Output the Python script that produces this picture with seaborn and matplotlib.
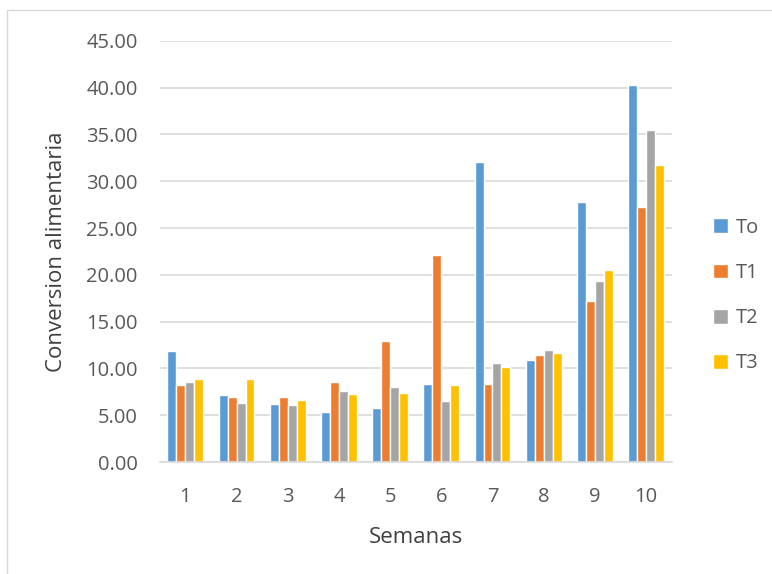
import pandas as pd
import matplotlib
matplotlib.use('Agg')
import matplotlib.pyplot as plt
import seaborn as sns
from matplotlib.lines import Line2D

# Data
semanas = ['1', '2', '3', '4', '5', '6', '7', '8', '9', '10']
tratamientos = ['To', 'T1', 'T2', 'T3']
to_vals = [11.9, 7.2, 6.2, 5.4, 5.8, 8.3, 32.1, 10.9, 27.8, 40.3]
t1_vals = [8.2, 7.0, 7.0, 8.5, 12.9, 22.1, 8.3, 11.4, 17.2, 27.2]
t2_vals = [8.5, 6.3, 6.1, 7.6, 8.0, 6.5, 10.6, 12.0, 19.3, 35.5]
t3_vals = [8.9, 8.9, 6.6, 7.3, 7.4, 8.2, 10.2, 11.6, 20.5, 31.7]
colores = ['#5B9BD5', '#ED7D31', '#A5A5A5', '#FFC000']

rows = []
for trat, vals in zip(tratamientos, [to_vals, t1_vals, t2_vals, t3_vals]):
    for sem, v in zip(semanas, vals):
        rows.append({'Semanas': sem, 'Tratamiento': trat, 'Valor': v})
df = pd.DataFrame(rows)

sns.set_style('white')
plt.rcParams['font.family'] = ['Open Sans', 'DejaVu Sans']

fig = plt.figure(figsize=(7.72, 5.74), dpi=100)
ax = fig.add_axes([0.207, 0.195, 0.663, 0.734])

sns.barplot(data=df, x='Semanas', y='Valor', hue='Tratamiento', order=semanas,
            hue_order=tratamientos, palette=colores, saturation=1, width=0.7,
            edgecolor='white', linewidth=1, ax=ax)

ax.set_ylim(0, 45)
ax.set_yticks(range(0, 50, 5))
ax.set_yticklabels([f'{v:.2f}' for v in range(0, 50, 5)])
ax.yaxis.grid(True, color='#D9D9D9', linewidth=1.2)
ax.set_axisbelow(True)
for s in ['top', 'right', 'left']:
    ax.spines[s].set_visible(False)
ax.spines['bottom'].set_color('#D9D9D9')
ax.spines['bottom'].set_linewidth(1.2)
ax.tick_params(axis='both', length=0, labelsize=14.5, colors='#595959')
ax.tick_params(axis='y', pad=16)
ax.tick_params(axis='x', pad=18)

ax.set_xlabel('Semanas', fontsize=16, color='#404040', labelpad=14)
ax.set_ylabel('Conversion alimentaria', fontsize=16, color='#404040', labelpad=14)

ax.legend(loc='center left', bbox_to_anchor=(1.045, 0.395), frameon=False,
          fontsize=14.5, handlelength=0.75, handleheight=0.75, handletextpad=0.4,
          labelspacing=1.25, labelcolor='#595959')

# light chart border
fig.add_artist(Line2D([7/772, 7/772], [0, 1 - 10/574], color='#D9D9D9', linewidth=1))
fig.add_artist(Line2D([7/772, 1], [1 - 10/574, 1 - 10/574], color='#D9D9D9', linewidth=1))

fig.savefig('out.png', dpi=100)
